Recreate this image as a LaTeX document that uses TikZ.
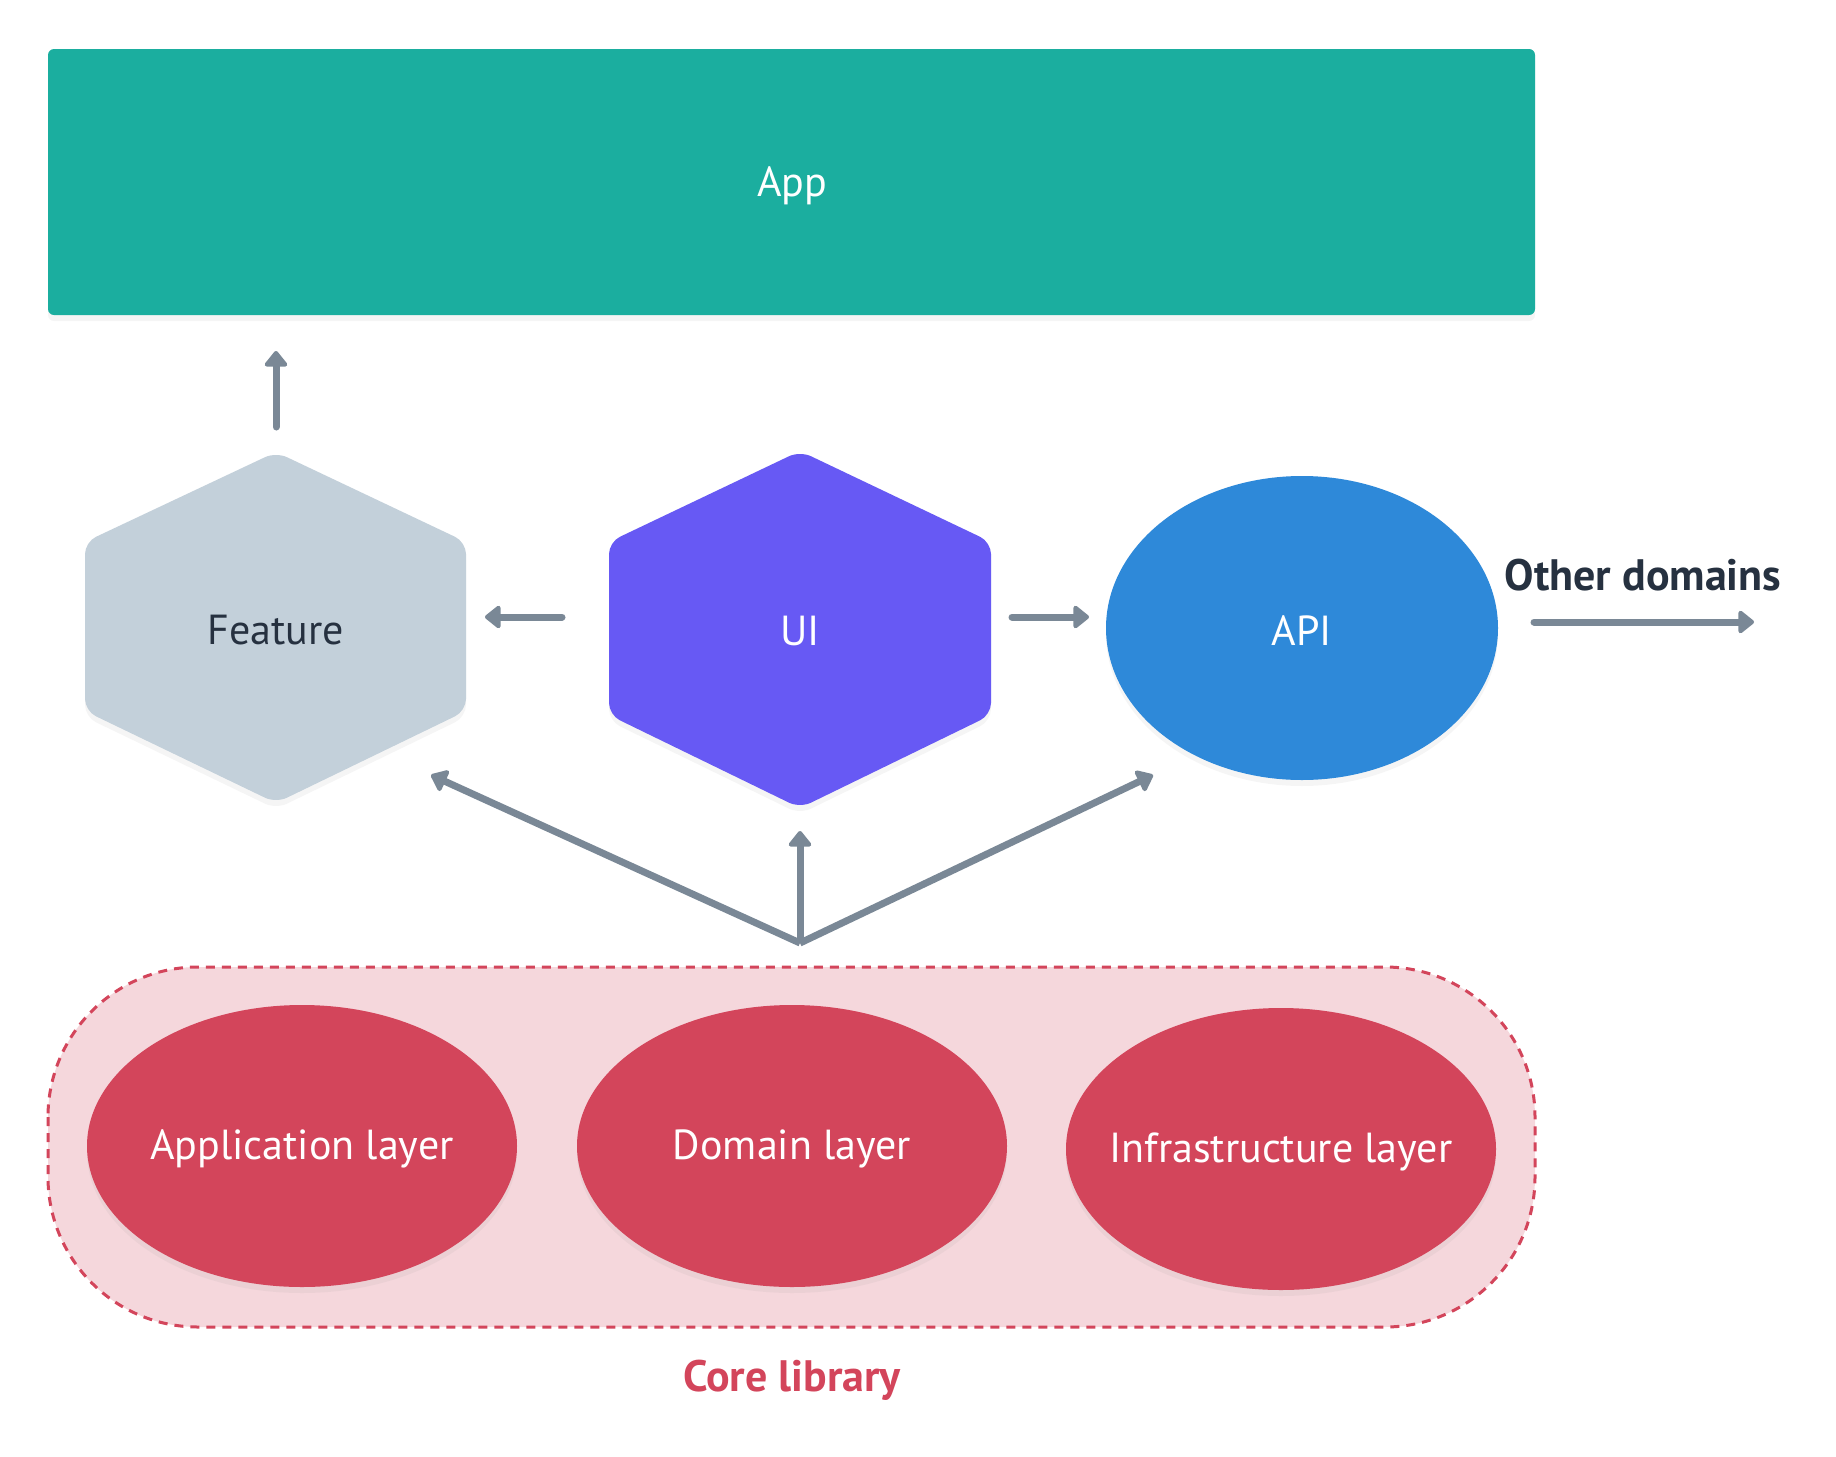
\documentclass[tikz,border=0pt]{standalone}
\usepackage{fontspec}
\setmainfont{PT Sans}
\usetikzlibrary{arrows.meta,shadows,shapes.geometric}
\definecolor{appteal}{HTML}{1BAE9F}
\definecolor{featgray}{HTML}{C3D0DA}
\definecolor{uipurple}{HTML}{6759F4}
\definecolor{apiblue}{HTML}{2E89D9}
\definecolor{arrowgray}{HTML}{7A8896}
\definecolor{corered}{HTML}{D3455B}
\definecolor{corepink}{HTML}{F5D7DC}
\definecolor{darktext}{HTML}{263140}
\tikzset{
  soft/.style={drop shadow={shadow xshift=0pt,shadow yshift=-6pt,opacity=0.08}},
  flow/.style={draw=arrowgray,line width=7pt,line cap=round,-{Triangle[length=17pt,width=26pt,round]}},
  lbl/.style={font=\fontsize{42}{48}\selectfont,inner sep=0pt},
  bold/.style={font=\fontsize{44}{50}\selectfont\bfseries,inner sep=0pt},
  layerfill/.style={fill=corered,soft}
}
\begin{document}
\begin{tikzpicture}[x=1pt,y=-1pt]
\useasboundingbox (0,0) rectangle (1836,1456);
% App
\fill[appteal,rounded corners=6pt,soft] (48,49) rectangle (1535,315);
\node[lbl,text=white] (app) at (792,186) {App};
% Feature hexagon
\fill[featgray,rounded corners=12pt,soft] (276,452) -- (466,542) -- (466,711) -- (276,803) -- (85,711) -- (85,542) -- cycle;
\node[lbl,text=darktext] (feature) at (276,630) {Feature};
% UI hexagon
\fill[uipurple,rounded corners=12pt,soft] (800,451) -- (991,542) -- (991,715) -- (800,808) -- (609,715) -- (609,542) -- cycle;
\node[lbl,text=white] (ui) at (800,631) {UI};
% API ellipse
\fill[apiblue,soft] (1302,628) ellipse [x radius=196pt,y radius=152pt];
\node[lbl,text=white] (api) at (1302,631) {API};
% Core library
\filldraw[fill=corepink,draw=corered,line width=3pt,dash pattern=on 9pt off 7pt,rounded corners=150pt] (48,967) rectangle (1535,1327);
\fill[layerfill] (302,1146) ellipse [x radius=215pt,y radius=141pt];
\fill[layerfill] (792,1146) ellipse [x radius=215pt,y radius=141pt];
\fill[layerfill] (1281,1149) ellipse [x radius=215pt,y radius=141pt];
\node[lbl,text=white] (appl) at (302,1149) {Application layer};
\node[lbl,text=white] (dom) at (792,1149) {Domain layer};
\node[lbl,text=white] (infra) at (1281,1152) {Infrastructure layer};
\node[bold,text=corered] (corelbl) at (792,1380) {Core library};
\node[bold,text=darktext] (other) at (1643,575) {Other domains};
% arrow coordinates
\coordinate (featup0) at (276,427);
\coordinate (featup1) at (276,351);
\coordinate (left0) at (562,617);
\coordinate (left1) at (485,617);
\coordinate (right0) at (1012,617);
\coordinate (right1) at (1089,617);
\coordinate (oth0) at (1534,622);
\coordinate (oth1) at (1754,622);
\coordinate (fan) at (800,943);
\coordinate (fanL) at (431,775);
\coordinate (fanM) at (800,831);
\coordinate (fanR) at (1153,775);
\draw[flow] (featup0) -- (featup1);
\draw[flow] (left0) -- (left1);
\draw[flow] (right0) -- (right1);
\draw[flow] (oth0) -- (oth1);
\draw[flow,line cap=butt] (fan) -- (fanL);
\draw[flow,line cap=butt] (fan) -- (fanM);
\draw[flow,line cap=butt] (fan) -- (fanR);
\end{tikzpicture}
\end{document}
